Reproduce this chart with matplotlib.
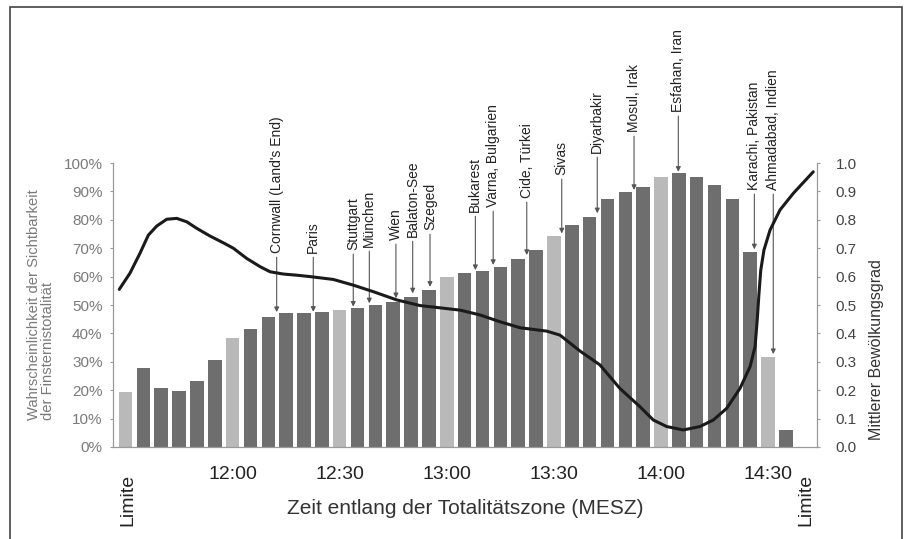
import numpy as np
import matplotlib
matplotlib.use("Agg")
import matplotlib.pyplot as plt
import matplotlib.transforms as mtransforms
from matplotlib.patches import Rectangle

plt.rcParams['font.family'] = ['Liberation Sans', 'DejaVu Sans']

# visibility probability per 5-minute slot (11:30 ... 14:35), percent
visibility = [19.3, 27.9, 20.8, 19.8, 23.2, 30.6, 38.5, 41.4, 45.9, 47.1,
              47.3, 47.6, 48.2, 48.9, 49.9, 51.0, 52.9, 55.4, 59.9, 61.2,
              62.1, 63.4, 66.3, 69.3, 74.2, 78.3, 81.1, 87.2, 89.7, 91.5,
              95.2, 96.4, 95.2, 92.4, 87.2, 68.6, 31.6, 6.0]

time_labels = ['12:00', '12:30', '13:00', '13:30', '14:00', '14:30']
time_slots = [6, 12, 18, 24, 30, 36]

# mean cloud cover along the path (slot position, fraction)
cloud_pos = [-0.35, 0.25, 0.81, 1.28, 1.75, 2.31, 2.87, 3.43, 3.99, 4.73,
             5.48, 6.04, 6.79, 7.54, 8.10, 8.84, 9.59, 10.34, 11.64, 12.76,
             13.88, 15.19, 16.50, 17.62, 18.74, 19.86, 20.98, 22.10, 23.60, 24.34,
             25.46, 26.58, 27.70, 28.82, 29.57, 30.32, 31.25, 32.18, 32.93, 33.68,
             34.43, 34.99, 35.27, 35.39, 35.49, 35.59, 35.77, 36.11, 36.67, 37.41,
             38.53]
cloud = [0.555, 0.612, 0.682, 0.746, 0.778, 0.802, 0.805, 0.793, 0.770, 0.743,
         0.719, 0.700, 0.664, 0.635, 0.617, 0.609, 0.605, 0.600, 0.590, 0.570,
         0.547, 0.518, 0.498, 0.490, 0.482, 0.465, 0.441, 0.420, 0.408, 0.394,
         0.338, 0.289, 0.206, 0.142, 0.095, 0.072, 0.060, 0.072, 0.095, 0.136,
         0.207, 0.283, 0.353, 0.447, 0.541, 0.623, 0.694, 0.764, 0.835, 0.893,
         0.969]

cities = ["Cornwall (Land's End)", 'Paris', 'Stuttgart', 'München', 'Wien',
          'Balaton-See', 'Szeged', 'Bukarest', 'Varna, Bulgarien', 'Cide, Türkei',
          'Sivas', 'Diyarbakir', 'Mosul, Irak', 'Esfahan, Iran',
          'Karachi, Pakistan', 'Ahmadabad, Indien']
city_pos = [8.47, 10.52, 12.76, 13.66, 15.15, 16.09, 17.06, 19.6, 20.6, 22.48,
            24.44, 26.43, 28.49, 30.97, 35.23, 36.29]
city_prob = [47.5, 47.6, 49.4, 50.6, 52.4, 54.1, 56.4, 62.3, 64.1, 67.6,
             75.2, 82.3, 90.5, 96.9, 69.6, 32.7]

# where each label starts (percent units, above the arrow)
label_y = [68.3, 68.3, 69.4, 70.4, 72.9, 73.9, 76.4, 82.7, 84.5, 87.7,
           95.8, 103.5, 110.9, 118.0, 90.5, 90.5]

W, H = 909, 539
fig = plt.figure(figsize=(W / 100, H / 100), dpi=100)
fig.patch.set_facecolor('white')

ax = fig.add_axes([113 / W, 1 - 447 / H, (817 - 113) / W, (447 - 163) / H])
ax2 = ax.twinx()

x = np.arange(len(visibility))
colors = ['#b9b9b9' if i in time_slots or i == 0 else '#6e6e6e' for i in x]
ax.bar(x, visibility, width=0.76, color=colors, linewidth=0, zorder=2)

ax.set_xlim(-0.7, 38.74)
ax.set_ylim(0, 100)
ax.set_yticks(np.arange(0, 101, 10))
ax.set_yticklabels([f'{v}%' for v in range(0, 101, 10)])
ax.set_xticks(time_slots)
ax.set_xticklabels(time_labels)

ax.tick_params(axis='x', length=0, pad=14, labelsize=14, labelcolor='#222222')
ax.tick_params(axis='y', length=2.5, width=0.8, color='#999999', pad=5,
               labelsize=11, labelcolor='#7a7a7a')
for s in ['top', 'right']:
    ax.spines[s].set_visible(False)
for s in ['left', 'bottom']:
    ax.spines[s].set_color('#999999')
    ax.spines[s].set_linewidth(0.9)

ax2.plot(cloud_pos, cloud, color='#1a1a1a', lw=2.2, solid_capstyle='round',
         solid_joinstyle='round', clip_on=False)
ax2.set_ylim(0, 1)
ax2.set_yticks(np.arange(0, 1.01, 0.1))
ax2.set_yticklabels([f'{v:.1f}' for v in np.arange(0, 1.01, 0.1)])
ax2.tick_params(axis='y', length=2.5, width=0.8, color='#999999', pad=11,
                labelsize=11, labelcolor='#444444')
for s in ['top', 'left', 'bottom']:
    ax2.spines[s].set_visible(False)
ax2.spines['right'].set_color('#999999')
ax2.spines['right'].set_linewidth(0.9)

for name, pos, prob, ly in zip(cities, city_pos, city_prob, label_y):
    ax.annotate(name, xy=(pos, prob), xytext=(pos, ly),
                rotation=90, ha='center', va='bottom', fontsize=10,
                color='#222222', annotation_clip=False,
                arrowprops=dict(arrowstyle='-|>', color='#555555', lw=0.8,
                                mutation_scale=7, shrinkA=1, shrinkB=0))

trans = mtransforms.blended_transform_factory(ax.transData, fig.transFigure)
for xpos in [0.15, 38.1]:
    ax.text(xpos, 1 - 500 / H, 'Limite', rotation=90, ha='center', va='center',
            fontsize=14, color='#222222', transform=trans)

fig.text(465 / W, 1 - 508 / H, 'Zeit entlang der Totalitätszone (MESZ)',
         ha='center', va='center', fontsize=15, color='#333333')
fig.text(41 / W, 1 - 305 / H,
         'Wahrscheinlichkeit der Sichtbarkeit\nder Finsternistotalität',
         rotation=90, ha='center', va='center', multialignment='left',
         fontsize=10.6, color='#7a7a7a', linespacing=0.95)
fig.text(876 / W, 1 - 350 / H, 'Mittlerer Bewölkungsgrad', rotation=90,
         ha='center', va='center', fontsize=11.5, color='#333333')

fig.add_artist(Rectangle((9.5 / W, -0.02), (902 - 9.5) / W, 1 - 7 / H + 0.02,
                         transform=fig.transFigure, fill=False,
                         edgecolor='#444444', lw=1.2))

fig.savefig('out.png', dpi=100)
